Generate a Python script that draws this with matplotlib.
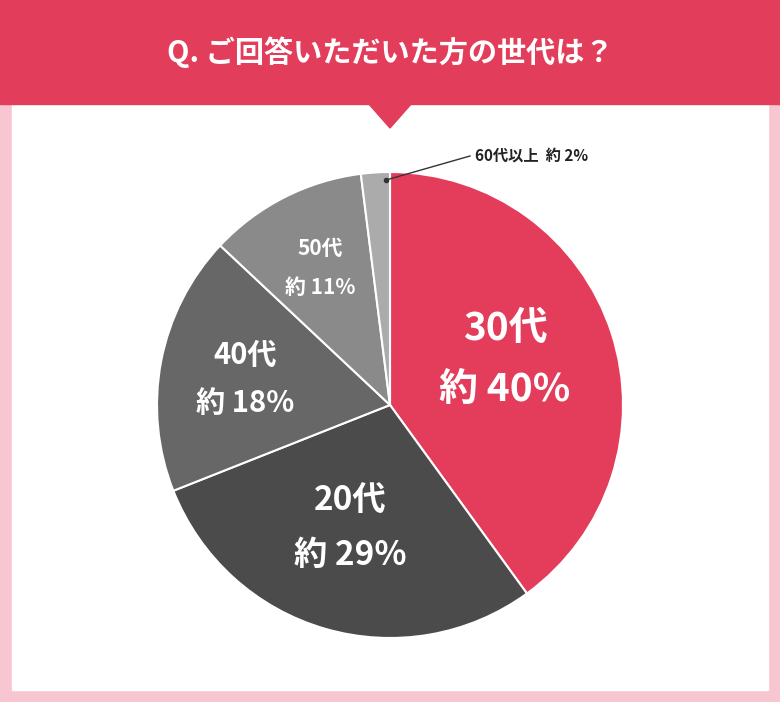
import matplotlib
matplotlib.use("Agg")
import matplotlib.pyplot as plt
from matplotlib.patches import Rectangle, Polygon

plt.rcParams['font.family'] = ['Noto Sans CJK JP', 'DejaVu Sans']

categories = ['30代', '20代', '40代', '50代', '60代以上']
values = [40, 29, 18, 11, 2]
colors = ['#e33d5b', '#4b4b4b', '#676767', '#8a8a8a', '#ababab']
title = 'Q. ご回答いただいた方の世代は？'

fig = plt.figure(figsize=(7.8, 7.02), dpi=100)
bg = fig.add_axes([0, 0, 1, 1])
bg.set_xlim(0, 780); bg.set_ylim(702, 0); bg.axis('off')
bg.add_patch(Rectangle((0, 0), 780, 702, color='#f8c6d0'))
bg.add_patch(Rectangle((12, 100), 756, 590, color='white'))
bg.add_patch(Rectangle((0, 0), 780, 104, color='#e23d5a'))
bg.add_patch(Polygon([(368, 103), (412, 103), (390, 128)], color='#e23d5a'))
bg.text(390, 52, title, color='white', fontsize=21, fontweight='bold', ha='center', va='center')

ax = fig.add_axes([157/780, 64/702, 466/780, 466/702])
ax.pie(values, colors=colors, startangle=90, counterclock=False,
       wedgeprops=dict(edgecolor='white', linewidth=1.5))
ax.set_xlim(-1, 1); ax.set_ylim(-1, 1); ax.set_aspect('equal')

top = fig.add_axes([0, 0, 1, 1])
top.set_xlim(0, 780); top.set_ylim(702, 0); top.axis('off')
top.patch.set_alpha(0)

def lab(x, y, t, s):
    top.text(x, y, t, color='white', fontsize=s, fontweight='bold', ha='center', va='center')

lab(505, 328, '30代', 28); lab(505, 390, '約 40%', 28)
lab(350, 500, '20代', 24); lab(350, 555, '約 29%', 24)
lab(245, 355, '40代', 21); lab(245, 403, '約 18%', 21)
lab(320, 248, '50代', 15); lab(320, 288, '約 11%', 15)
top.plot([386, 470], [180, 156], color='#333', lw=1)
top.plot([386], [180], 'o', color='#333', ms=3)
top.text(475, 156, '60代以上  約 2%', color='#222', fontsize=11, fontweight='bold', va='center')

fig.savefig('out.png', dpi=100)
